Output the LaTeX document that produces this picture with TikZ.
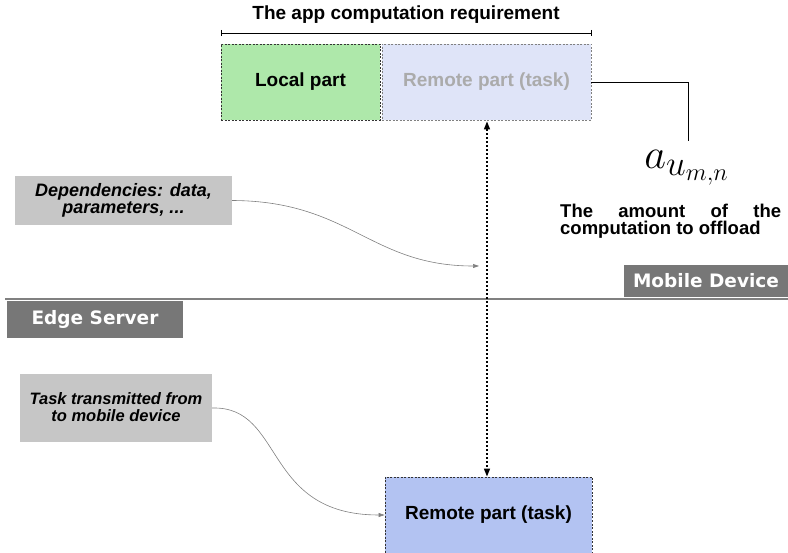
\documentclass[tikz,border=0pt]{standalone}
\usepackage{fontspec}
\usepackage{graphicx}
\setmainfont{Liberation Sans}
\newfontfamily\dejavu{DejaVu Sans}
\usetikzlibrary{arrows.meta,calc}
\definecolor{localgreen}{HTML}{AEE8AA}
\definecolor{remotelight}{HTML}{DFE4F8}
\definecolor{remotetask}{HTML}{B3C3F2}
\definecolor{notegray}{HTML}{C6C6C6}
\definecolor{labelgray}{HTML}{777777}
\definecolor{fadedtext}{HTML}{ABABAB}
\tikzset{
  partbox/.style={draw=#1, line width=0.9pt, dash pattern=on 2pt off 1.5pt, inner sep=0pt, align=center, font=\bfseries\fontsize{19}{22}\selectfont},
  notebox/.style={fill=notegray, inner sep=0pt, align=center, font=\bfseries\itshape\fontsize{18}{17}\selectfont},
  sidelabel/.style={fill=labelgray, text=white, inner sep=0pt, font=\dejavu\bfseries\fontsize{18.5}{20}\selectfont},
  curvearrow/.style={draw=gray, line width=0.6pt, -{Triangle[length=6pt,width=4pt]}},
  dotarrow/.style={line width=1.4pt, dash pattern=on 2pt off 2pt, {Triangle[length=8pt,width=6pt]}-{Triangle[length=8pt,width=6pt]}}
}
\begin{document}
\begin{tikzpicture}[x=1pt,y=-1pt]
\useasboundingbox (0,0) rectangle (788,553);
% title and bracket
\node[font=\bfseries\fontsize{19}{22}\selectfont] (title) at (406,15) {The app computation requirement};
\coordinate (bl) at (221,33);
\coordinate (br) at (591,33);
\draw[line width=0.9pt] (bl) -- (br);
\draw[line width=0.9pt] ($(bl)+(0,-3)$) -- ($(bl)+(0,3)$);
\draw[line width=0.9pt] ($(br)+(0,-3)$) -- ($(br)+(0,3)$);
% top boxes
\node[partbox=black!80, fill=localgreen, minimum width=159pt, minimum height=76pt] (local) at (300.5,82) {Local part};
\node[partbox=gray, fill=remotelight, text=fadedtext, minimum width=209pt, minimum height=76pt] (rtop) at (486.5,82) {Remote part (task)};
% connector to a
\node[font=\fontsize{30}{30}\selectfont] (amath) at (687,168) {\scalebox{1.7}{$a_{u_{m,n}}$}};
\coordinate (acorner) at (688,82);
\draw[line width=0.8pt] (rtop.east) -- (acorner) -- (688,141);
\node[font=\bfseries\fontsize{18.5}{17}\selectfont, align=left, inner sep=0pt, anchor=north west] (amount) at (560,204) {\makebox[221pt][s]{The amount of the}\\computation to offload};
% separator and labels
\node[sidelabel, minimum width=164pt, minimum height=32pt] (mobile) at (706,281) {Mobile Device};
\coordinate (sepl) at (5,299);
\coordinate (sepr) at (788,299);
\draw[line width=2pt, color=gray] (sepl) -- (sepr);
\node[sidelabel, minimum width=176pt, minimum height=37pt] (edge) at (95,319.5) {Edge Server};
% bottom box
\node[partbox=black!80, fill=remotetask, minimum width=207pt, minimum height=76pt] (rbot) at (488.5,515) {Remote part (task)};
% dotted arrow
\draw[dotarrow] ($(rtop.south)+(0.5,1)$) -- ($(rtop.south |- rbot.north)+(0.5,0)$);
% notes
\node[notebox, minimum width=217pt, minimum height=49pt] (dep) at (123.5,200.5) {Dependencies: data,\\parameters, ...\rule[-3pt]{0pt}{3pt}};
\coordinate (depend) at (479,266);
\draw[curvearrow] (dep.east) .. controls (350,201) and (370,266) .. (depend);
\node[notebox, font=\bfseries\itshape\fontsize{16.5}{17}\selectfont, minimum width=192pt, minimum height=68pt] (task) at (116,408) {Task transmitted from\\to mobile device\rule[-2pt]{0pt}{2pt}};
\draw[curvearrow] (task.east) .. controls (285,406) and (262,515) .. (rbot.west);
\end{tikzpicture}
\end{document}
